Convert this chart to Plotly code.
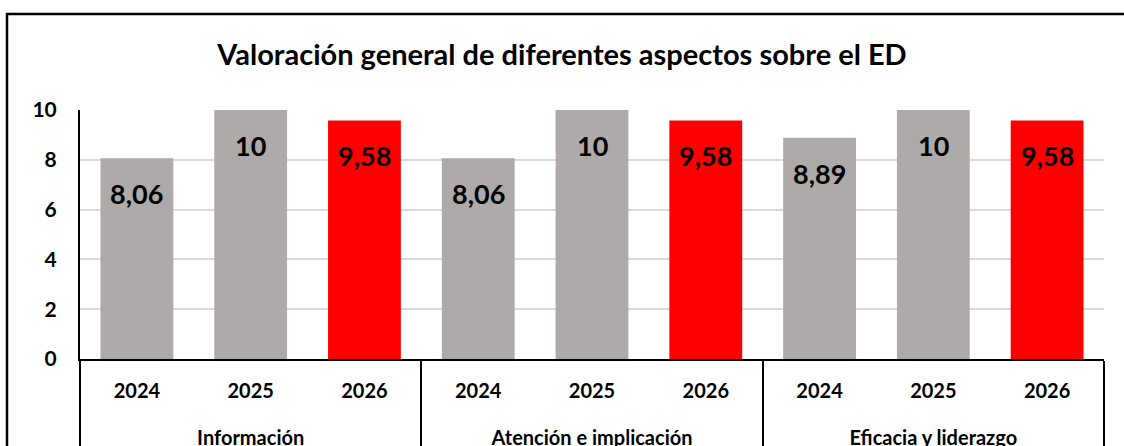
import plotly.graph_objects as go

groups = ["Información", "Información", "Información",
          "Atención e implicación", "Atención e implicación", "Atención e implicación",
          "Eficacia y liderazgo", "Eficacia y liderazgo", "Eficacia y liderazgo"]
years = ["2024", "2025", "2026"] * 3
values = [8.06, 10, 9.58, 8.06, 10, 9.58, 8.89, 10, 9.58]
labels = ["8,06", "10", "9,58", "8,06", "10", "9,58", "8,89", "10", "9,58"]
colors = ["#AEAAAA", "#AEAAAA", "#FF0000"] * 3
y_ticks = [0, 2, 4, 6, 8, 10]

FONT = "Lato, Carlito, Calibri, sans-serif"
W, H = 1124, 446
ML, MT = 80, 110
PB, PR = 359, 1104      # plot bottom / right in pixels
MR, MB = W - PR, H - PB
PW, PH = PR - ML, PB - MT

SPAN = "<span style='font-size:20px'><b>{}</b></span>"
group_text = ["<br>" + SPAN.format(g) for g in groups]
year_text = [SPAN.format(y) for y in years]

fig = go.Figure()
fig.add_trace(go.Bar(
    x=[group_text, year_text], y=values,
    marker=dict(color=colors, line=dict(width=0)),
    hoverinfo="skip",
))

for i, (v, t) in enumerate(zip(values, labels)):
    fig.add_annotation(
        x=i, y=v, xref="x", yref="y", text=f"<b>{t}</b>", showarrow=False,
        yanchor="top", yshift=-17,
        font=dict(family=FONT, size=27, color="#000000"),
    )

def px2paper_x(px):
    return (px - ML) / PW

def px2paper_y(py):
    return (PB - py) / PH

fig.add_shape(type="rect", xref="paper", yref="paper",
              x0=px2paper_x(7), x1=px2paper_x(1140),
              y0=px2paper_y(480), y1=px2paper_y(14),
              line=dict(color="#000000", width=2.5), fillcolor="rgba(0,0,0,0)", layer="below")

fig.update_layout(
    width=W, height=H,
    margin=dict(l=ML, r=MR, t=MT, b=MB, autoexpand=False),
    paper_bgcolor="#FFFFFF", plot_bgcolor="#FFFFFF",
    bargap=0.36,
    showlegend=False,
    font=dict(family=FONT, color="#000000"),
    title=dict(text="<b>Valoración general de diferentes aspectos sobre el ED</b>",
               x=0.5, xanchor="center", xref="container", y=1 - 55 / H, yanchor="middle",
               yref="container",
               font=dict(family=FONT, size=29, color="#000000")),
)
fig.update_xaxes(
    type="multicategory", automargin=False,
    showline=True, linecolor="#000000", linewidth=2,
    showgrid=False,
    showdividers=True, dividercolor="#000000", dividerwidth=2,
    ticks="outside", ticklen=6, tickcolor="rgba(0,0,0,0)",
    ticklabelstandoff=9,
    tickfont=dict(family=FONT, size=23, color="#000000"),
)
fig.update_yaxes(
    range=[0, 10], tickvals=y_ticks, ticktext=[f"<b>{v}</b>" for v in y_ticks],
    automargin=False,
    showline=True, linecolor="#000000", linewidth=2,
    showgrid=True, gridcolor="#D9D9D9", gridwidth=1.5,
    zeroline=False,
    ticks="", ticklabelstandoff=17,
    tickfont=dict(family=FONT, size=21, color="#000000"),
)

fig.write_html("out.html", config={"displayModeBar": False},
               post_script="document.body.style.margin='0';")
